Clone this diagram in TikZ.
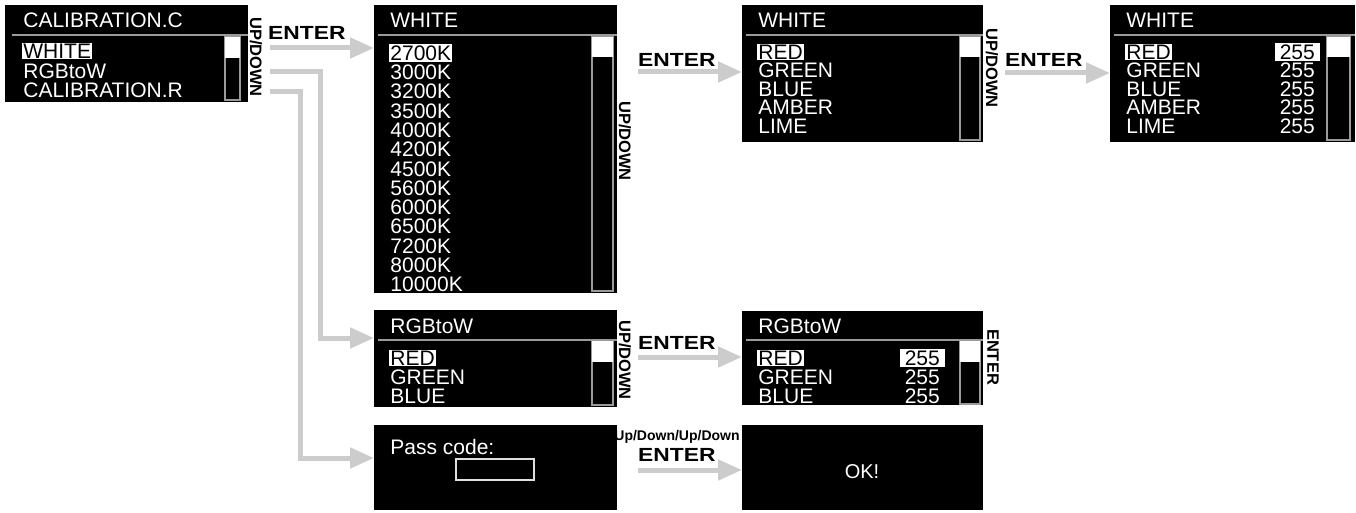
\documentclass[tikz,border=0pt]{standalone}
\usepackage{fontspec}
\setmainfont{Liberation Sans}
\newfontfamily\keyfont[FakeStretch=1.2]{Liberation Sans}
\usetikzlibrary{arrows.meta}
\definecolor{flowgray}{HTML}{CCCCCC}
\definecolor{linegray}{HTML}{9A9A9A}

\tikzset{
  screen/.style={fill=black, inner sep=0pt, outer sep=0pt, anchor=north west},
  rule/.style={draw=linegray, line width=1.5pt},
  bar/.style={draw=linegray, line width=1.2pt, fill=black},
  thumb/.style={fill=white},
  item/.style={text=white, anchor=west, inner sep=1.2pt, font=\fontsize{21}{21}\selectfont},
  sel/.style={item, fill=white, text=black},
  val/.style={item, anchor=east, inner xsep=5pt},
  selval/.style={val, fill=white, text=black},
  key/.style={font=\keyfont\bfseries\fontsize{19}{19}\selectfont, inner sep=0pt, anchor=west},
  tag/.style={font=\bfseries\fontsize{16.5}{16.5}\selectfont, inner sep=0pt, rotate=-90},
  flow/.style={draw=flowgray, line width=5pt, -{Triangle[length=24pt,width=20pt]}},
}

\begin{document}
\begin{tikzpicture}[x=1pt,y=-1pt]
  \useasboundingbox (0,0) rectangle (1356,513);

  % screens
  \node[screen, minimum width=243pt, minimum height=97pt] (calib) at (5,5) {};
  \node[screen, minimum width=243pt, minimum height=288pt] (whitelist) at (374,5) {};
  \node[screen, minimum width=241pt, minimum height=137pt] (whitech) at (742,5) {};
  \node[screen, minimum width=245pt, minimum height=137pt] (whiteval) at (1110,5) {};
  \node[screen, minimum width=243pt, minimum height=97pt] (rgbch) at (374,310) {};
  \node[screen, minimum width=241pt, minimum height=94pt] (rgbval) at (742,311) {};
  \node[screen, minimum width=243pt, minimum height=85pt] (passcode) at (374,425) {};
  \node[screen, minimum width=241pt, minimum height=85pt] (okscreen) at (742,425) {};

  % CALIBRATION.C
  \node[item] at (22,20) {CALIBRATION.C};
  \draw[rule] (12,35) -- (248,35);
  \draw[bar] (225,37) rectangle (240,100);
  \fill[thumb] (225,37) rectangle (240,58);
  \node[sel] at (22,51) {WHITE};
  \node[item] at (22,71) {RGBtoW};
  \node[item] at (22,90) {CALIBRATION.R};

  % WHITE colour temperatures
  \node[item] at (389,20) {WHITE};
  \draw[rule] (378,35) -- (617,35);
  \draw[bar] (592,37) rectangle (613,291);
  \fill[thumb] (592,37) rectangle (613,57);
  \node[sel] at (389,53) {2700K};
  \foreach \t [count=\i] in {3000K,3200K,3500K,4000K,4200K,4500K,5600K,6000K,6500K,7200K,8000K,10000K}
    \node[item] at (389,{53+19.3*\i}) {\t};

  % WHITE channels
  \node[item] at (757,20) {WHITE};
  \draw[rule] (746,35) -- (983,35);
  \draw[bar] (960,37) rectangle (980,140);
  \fill[thumb] (960,37) rectangle (980,57);
  \node[sel] at (757,52) {RED};
  \foreach \t [count=\i] in {GREEN,BLUE,AMBER,LIME}
    \node[item] at (757,{52+18.5*\i}) {\t};

  % WHITE values
  \node[item] at (1125,20) {WHITE};
  \draw[rule] (1114,35) -- (1355,35);
  \draw[bar] (1327,37) rectangle (1350,140);
  \fill[thumb] (1327,37) rectangle (1350,57);
  \node[sel] at (1125,52) {RED};
  \foreach \t [count=\i] in {GREEN,BLUE,AMBER,LIME}
    \node[item] at (1125,{52+18.5*\i}) {\t};
  \node[selval] at (1320,52) {255};
  \foreach \i in {1,...,4}
    \node[val] at (1320,{52+18.5*\i}) {255};

  % RGBtoW channels
  \node[item] at (389,326) {RGBtoW};
  \draw[rule] (378,340) -- (617,340);
  \draw[bar] (592,341) rectangle (613,405);
  \fill[thumb] (592,341) rectangle (613,362);
  \node[sel] at (389,358) {RED};
  \node[item] at (389,377) {GREEN};
  \node[item] at (389,396) {BLUE};

  % RGBtoW values
  \node[item] at (757,326) {RGBtoW};
  \draw[rule] (746,340) -- (983,340);
  \draw[bar] (960,341) rectangle (980,404);
  \fill[thumb] (960,341) rectangle (980,362);
  \node[sel] at (757,358) {RED};
  \node[item] at (757,377) {GREEN};
  \node[item] at (757,396) {BLUE};
  \node[selval] at (945,358) {255};
  \node[val] at (945,377) {255};
  \node[val] at (945,396) {255};

  % pass code / OK
  \node[item] at (389,447) {Pass code:};
  \draw[gray!25, line width=1.2pt] (456,459) rectangle (534,480);
  \node[text=white, font=\fontsize{20}{20}\selectfont] at (862,472) {OK!};

  % keys
  \node[tag] (ud1) at (256,57) {UP/DOWN};
  \node[key] (k1) at (268,33) {ENTER};
  \node[tag] (ud2) at (625,141) {UP/DOWN};
  \node[key] (k2) at (638,60) {ENTER};
  \node[tag] (ud3) at (992,68) {UP/DOWN};
  \node[key] (k3) at (1005,60) {ENTER};
  \node[tag] (ud4) at (625,360) {UP/DOWN};
  \node[key] (k4) at (638,343) {ENTER};
  \node[tag] (k6) at (993,357) {ENTER};
  \node[font=\bfseries\fontsize{14}{14}\selectfont, inner sep=0pt] (ud5) at (677,437) {Up/Down/Up/Down};
  \node[key] (k5) at (638,455) {ENTER};

  % flow
  \coordinate (a1) at (270,48);
  \coordinate (b1) at (270,72);
  \coordinate (b2) at (320,338);
  \coordinate (c1) at (270,92);
  \coordinate (c2) at (300,458);
  \coordinate (a2) at (638,72);
  \coordinate (a3) at (1005,73);
  \coordinate (a4) at (638,357);
  \coordinate (a5) at (638,470);
  \draw[flow] (a1) -- (whitelist.west |- a1);
  \draw[flow] (b1) -| (b2) -- (rgbch.west |- b2);
  \draw[flow] (c1) -| (c2) -- (passcode.west |- c2);
  \draw[flow] (a2) -- (whitech.west |- a2);
  \draw[flow] (a3) -- (whiteval.west |- a3);
  \draw[flow] (a4) -- (rgbval.west |- a4);
  \draw[flow] (a5) -- (okscreen.west |- a5);
\end{tikzpicture}
\end{document}
